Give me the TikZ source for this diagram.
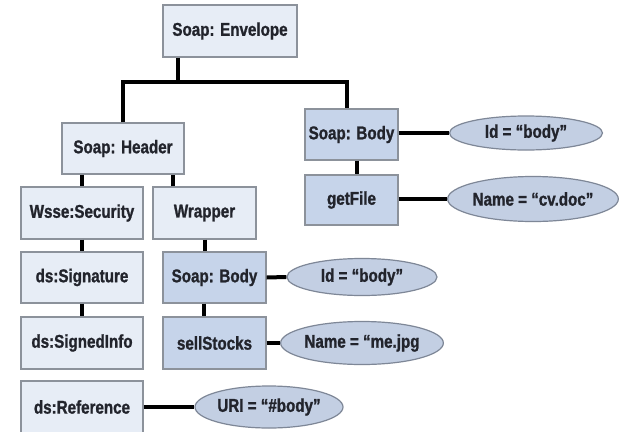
\documentclass[tikz,border=0pt]{standalone}
\usepackage{fontspec}
\newfontfamily\labfont{Liberation Sans}[FakeStretch=0.82, BoldFeatures={FakeBold=1.2}]
\usetikzlibrary{shapes.geometric}
\definecolor{boxline}{HTML}{8C929B}
\definecolor{lightfill}{HTML}{E7EDF6}
\definecolor{darkfill}{HTML}{C6D4EA}
\definecolor{ellfill}{HTML}{C3CFE3}
\definecolor{ellline}{HTML}{7E8797}
\definecolor{txt}{HTML}{22242C}
\tikzset{
  x=1pt, y=-1pt,
  lbox/.style={draw=boxline, line width=1.3pt, fill=lightfill, rectangle, inner sep=0pt,
    font=\labfont\bfseries\fontsize{18.5}{22}\selectfont, text=txt},
  dbox/.style={lbox, fill=darkfill},
  attr/.style={draw=ellline, line width=1.2pt, fill=ellfill, ellipse, inner sep=0pt,
    font=\labfont\bfseries\fontsize{18.5}{22}\selectfont, text=txt},
  conn/.style={line width=4pt, black},
}
\begin{document}
\begin{tikzpicture}
\clip (0,0) rectangle (621,431);
\fill[white] (0,0) rectangle (621,431);
% boxes
\node[lbox, minimum width=134pt, minimum height=52pt] (env) at (230,31) {Soap: Envelope};
\node[lbox, minimum width=122pt, minimum height=51pt] (header) at (123,148.5) {Soap: Header};
\node[dbox, minimum width=93pt, minimum height=51pt] (body1) at (351.5,134.5) {Soap: Body};
\node[dbox, minimum width=93pt, minimum height=50pt] (getfile) at (351.5,200) {getFile};
\node[lbox, minimum width=122pt, minimum height=52pt] (wsse) at (82,213) {Wsse:Security};
\node[lbox, minimum width=103pt, minimum height=52pt] (wrapper) at (204.5,213) {Wrapper};
\node[lbox, minimum width=122pt, minimum height=51pt] (sig) at (82,277.5) {ds:Signature};
\node[dbox, minimum width=103pt, minimum height=51pt] (body2) at (214.5,277.5) {Soap: Body};
\node[lbox, minimum width=122pt, minimum height=52pt] (signed) at (82,343) {ds:SignedInfo};
\node[dbox, minimum width=103pt, minimum height=52pt] (sell) at (214.5,343) {sellStocks};
\node[lbox, minimum width=122pt, minimum height=52pt] (ref) at (82,407) {ds:Reference};
% ellipses
\node[attr, minimum width=153pt, minimum height=34pt] (e1) at (526,133) {Id = “body”};
\node[attr, minimum width=160pt, minimum height=45pt] (e2) at (533,199) {Name = “cv.doc”};
\node[attr, minimum width=150pt, minimum height=37pt] (e3) at (362,277) {Id = “body”};
\node[attr, minimum width=150pt, minimum height=43pt] (e4) at (362,343) {Name = “me.jpg};
\node[attr, minimum width=148pt, minimum height=42pt] (e5) at (269,407) {URI = “\#body”};
% tree connectors
\coordinate (j) at (178,82);
\draw[conn] (env.south -| j) -- (j);
\draw[conn] (header.north) |- (j);
\draw[conn] (j) -| ([xshift=-4.5pt]body1.north);
\draw[conn] ([xshift=5.5pt]body1.south) -- ([xshift=5.5pt]getfile.north);
\draw[conn] (header.south -| wsse.north) -- (wsse.north);
\draw[conn] ([xshift=-31.5pt]wrapper.north) -- ([xshift=-31.5pt]wrapper.north |- header.south);
\draw[conn] (wsse.south) -- (sig.north);
\draw[conn] (wrapper.south) -- (wrapper.south |- body2.north);
\draw[conn] (sig.south) -- (signed.north);
\draw[conn] ([xshift=-10.5pt]body2.south) -- ([xshift=-10.5pt]sell.north);
% attribute connectors
\draw[conn] (body1.east |- e1) -- (e1.west);
\draw[conn] (getfile.east |- e2) -- (e2.west);
\draw[conn] (body2.east) -- (e3.west);
\draw[conn] (sell.east) -- (e4.west);
\draw[conn] (ref.east) -- (e5.west);
\end{tikzpicture}
\end{document}
